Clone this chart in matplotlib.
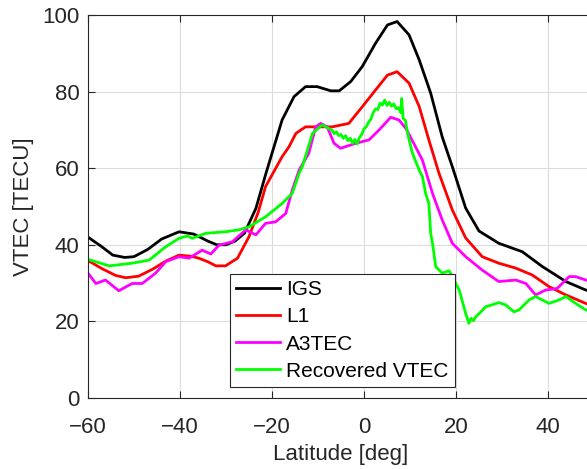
import matplotlib
matplotlib.use("Agg")
import matplotlib.pyplot as plt

plt.rcParams['font.family'] = ['Liberation Sans', 'DejaVu Sans']

# IGS global map VTEC along the track
igs_lat = [-60, -57, -54.6, -52, -50, -47, -44, -40.2, -37, -34, -32, -30, -28, -26,
           -23.5, -21.3, -17.8, -15.2, -12.7, -10.2, -7.2, -5.4, -2.9, -0.4, 2.5, 5.1,
           7.2, 9.8, 12, 14.5, 17, 19.2, 22.1, 25, 29.3, 34.4, 38.8, 43.9, 48.2, 50]
igs_val = [42.0, 39.5, 37.3, 36.7, 36.9, 38.8, 41.5, 43.4, 42.8, 41.0, 40.0, 40.0, 41.0, 43.0,
           49.5, 58.7, 72.6, 78.7, 81.3, 81.3, 80.2, 80.2, 82.6, 86.5, 92.6, 97.4,
           98.3, 94.8, 88.3, 79.6, 68.2, 60.4, 49.6, 43.6, 40.4, 38.2, 34.3, 30.4, 28.2, 27.6]

# L1 single-frequency VTEC
l1_lat = [-60, -57, -54, -51.8, -49, -46, -43, -40.2, -37.5, -35.9, -34, -32.2, -30.1, -27.5,
          -25, -23, -21.4, -17.8, -16.3, -14.8, -12.7, -6.9, -3.3, -0.4, 2.5, 5.1,
          7.2, 9.8, 12, 14.1, 16.3, 19.2, 22.1, 25.7, 29.3, 33, 36.6, 40.2, 43.9, 48.2, 50]
l1_val = [35.9, 33.8, 32.0, 31.4, 31.8, 33.6, 35.8, 37.3, 37.0, 36.5, 35.6, 34.5, 34.5, 36.5,
          42.1, 48.5, 55.2, 63.0, 65.6, 69.1, 70.8, 70.8, 71.7, 76.0, 80.4, 84.3,
          85.2, 82.2, 76.1, 67.4, 58.7, 49.1, 41.8, 36.9, 35.2, 33.9, 32.1, 29.1, 26.9, 24.7, 24.0]

# A3TEC estimate
a3_lat = [-60, -58.3, -56.2, -53.3, -50.4, -48.2, -45.3, -43.1, -40.2, -38, -35.2, -33.3,
          -31.5, -28.6, -25.7, -23.5, -21.4, -19.2, -17, -15.6, -14.1, -12, -10.5, -9.4,
          -8, -6.5, -5.1, -1.8, 1.1, 3.3, 5.8, 7.6, 9.1, 11.2, 12.7, 14.9, 17, 19.2,
          22.1, 25.7, 29.3, 33, 35.2, 37.3, 39.5, 42, 44.6, 46, 48.2, 50]
a3_val = [32.6, 29.9, 30.8, 28.0, 29.9, 29.9, 32.6, 35.6, 36.9, 36.5, 38.6, 37.6,
          39.9, 40.8, 43.9, 42.6, 45.6, 46.0, 48.2, 54.3, 59.5, 63.9, 70.8, 71.7,
          70.8, 66.5, 65.2, 66.5, 67.4, 70.0, 73.3, 72.6, 70.4, 65.6, 62.1, 53.4, 46.5, 40.4,
          36.9, 33.4, 30.4, 30.8, 29.9, 26.9, 28.2, 28.6, 31.7, 31.7, 30.8, 30.2]

# Recovered VTEC
rec_lat = [-60, -55.4, -50.4, -46.7, -43.1, -40.2, -38.4, -37.3, -34.4, -30.1, -27.2,
           -25, -21.4, -17.8, -15.6, -14.1, -13.4, -11.2, -9.1, -8, -7, -6.5, -6, -5.5,
           -5, -4.5, -4, -3.5, -3, -2.5, -2, -1.5, -1, -0.5, 0, 0.5, 1, 1.5, 2, 2.5, 3,
           3.5, 4, 4.5, 5, 5.5, 6, 6.5, 7, 7.5, 8, 8.2, 8.5, 9, 9.5, 10, 10.5, 12, 12.7,
           13.4, 14.1, 14.5, 14.9, 15.6, 17, 18.5, 19.2, 20.7, 22.1, 22.8, 23.3, 23.8,
           24.3, 25, 25.5, 26.4, 27.5, 29.3, 30.8, 32.6, 33.7, 35.9, 37.3, 40.2, 42.4,
           43.9, 46, 48.2, 50]
rec_val = [36.2, 34.5, 35.2, 36.0, 39.5, 41.7, 42.3, 41.7, 43.0, 43.4, 43.9,
           44.7, 47.3, 50.8, 53.4, 58.7, 60.4, 69.1, 71.3, 70.6, 70.0, 69.0, 69.5, 68.5,
           68.8, 67.8, 68.5, 67.2, 67.8, 66.5, 67.5, 66.3, 68.0, 68.8, 70.3, 70.8, 72.0,
           72.8, 74.5, 75.5, 75.3, 77.0, 76.5, 77.8, 76.4, 77.2, 76.2, 76.8, 75.5, 75.8,
           74.5, 78.2, 73.0, 72.5, 69.0, 66.5, 64.0, 59.5, 57.8, 53.4, 50.8, 43.0, 40.4,
           34.3, 32.6, 33.2, 31.7, 28.2, 22.1, 19.5, 20.8, 20.2, 21.2, 22.0, 22.6, 23.8,
           24.2, 24.9, 24.3, 22.5, 23.0, 25.6, 26.5, 24.7, 25.6, 26.5, 24.7, 23.0, 22.6]

series = [
    ("IGS", igs_lat, igs_val, "#000000"),
    ("L1", l1_lat, l1_val, "#ff0000"),
    ("A3TEC", a3_lat, a3_val, "#ff00ff"),
    ("Recovered VTEC", rec_lat, rec_val, "#00ff00"),
]

x_ticks = [-60, -40, -20, 0, 20, 40]
y_ticks = [0, 20, 40, 60, 80, 100]

fig = plt.figure(figsize=(5.87, 4.69), dpi=100)
ax = fig.add_axes([0.1499, 0.1514, 0.862, 0.8166])

for name, lat, val, color in series:
    ax.plot(lat, val, color=color, lw=2.0, label=name, solid_joinstyle='round')

ax.set_xlim(-60, 50)
ax.set_ylim(0, 100)
ax.set_xticks(x_ticks)
ax.set_yticks(y_ticks)
ax.grid(True, color='#dcdcdc', lw=0.8)
ax.set_axisbelow(True)

spine_color = '#262626'
for s in ax.spines.values():
    s.set_color(spine_color)
    s.set_linewidth(0.8)
ax.tick_params(direction='in', length=5, width=0.8, colors=spine_color,
               labelsize=16, top=True, right=True, labelcolor='#262626')
ax.tick_params(axis='x', pad=14)
ax.tick_params(axis='y', pad=6)

ax.set_xlabel("Latitude [deg]", fontsize=16, color='#262626', labelpad=4)
ax.set_ylabel("VTEC [TECU]", fontsize=16, color='#262626', labelpad=6)

leg = ax.legend(loc='lower left', bbox_to_anchor=(0.281, 0.029), fontsize=15,
                frameon=True, fancybox=False, edgecolor='#262626', framealpha=1.0,
                handlelength=2.1, handletextpad=0.3, labelspacing=0.39,
                borderpad=0.3, borderaxespad=0.0)
leg.get_frame().set_linewidth(0.8)
for line in leg.get_lines():
    line.set_linewidth(2.0)

fig.savefig("out.png", dpi=100)
